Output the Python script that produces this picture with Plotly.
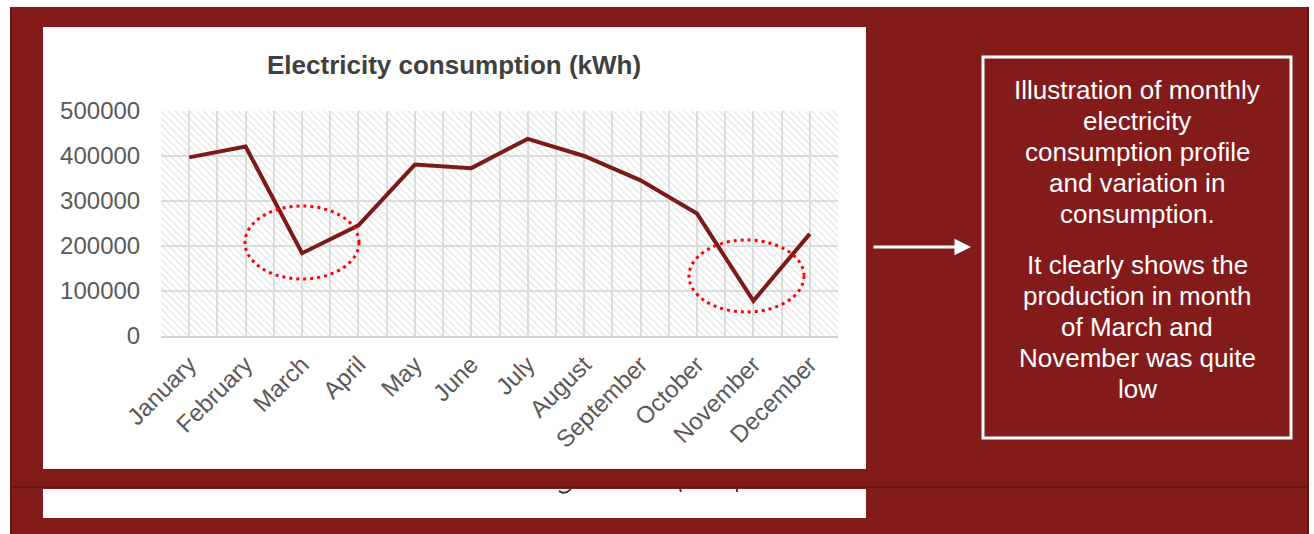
import plotly.graph_objects as go

W, H = 1314, 534

months = ["January", "February", "March", "April", "May", "June", "July",
          "August", "September", "October", "November", "December"]
consumption_kwh = [397000, 421000, 184000, 246000, 381000, 373000, 438000,
                   400000, 346000, 272000, 78000, 227000]
y_ticks = [0, 100000, 200000, 300000, 400000, 500000]

note_lines_top = ["Illustration of monthly", "electricity", "consumption profile",
                  "and variation in", "consumption."]
note_lines_bottom = ["It clearly shows the", "production in month", "of March and",
                     "November was quite", "low"]

RED = "#831b1b"
LINE_RED = "#7b1a1a"
GRID = "#dedede"
FONT = "Liberation Sans, Arial, sans-serif"


def px(x):
    return x / W


def py(y):
    return 1 - y / H


def pix_path(points):
    """SVG path in paper units from pixel points."""
    parts = []
    for i, (x, y) in enumerate(points):
        parts.append(("M" if i == 0 else "L") + f"{px(x):.5f},{py(y):.5f}")
    return " ".join(parts)


fig = go.Figure()

# hatched plot-area fill
x_lo, x_hi = -0.5, len(months) - 0.5
y_lo, y_hi = y_ticks[0], y_ticks[-1]
fig.add_trace(go.Scatter(
    x=[x_lo, x_hi, x_hi, x_lo, x_lo], y=[y_lo, y_lo, y_hi, y_hi, y_lo],
    mode="none", fill="toself", fillcolor="rgba(0,0,0,0)",
    fillpattern=dict(shape="\\", fgcolor="#d2d2d2", bgcolor="rgba(0,0,0,0)",
                     size=5, solidity=0.3, fillmode="overlay"),
    hoverinfo="skip", showlegend=False))

# consumption line
fig.add_trace(go.Scatter(
    x=list(range(len(months))), y=consumption_kwh, mode="lines",
    line=dict(color=LINE_RED, width=4), showlegend=False))

shapes = [
    # slide background and chart panels
    dict(type="rect", xref="paper", yref="paper", x0=px(10), x1=px(1308), y0=py(534), y1=py(7),
         fillcolor=RED, line=dict(width=0), layer="below"),
    dict(type="rect", xref="paper", yref="paper", x0=px(43), x1=px(866), y0=py(469), y1=py(27),
         fillcolor="white", line=dict(width=0), layer="below"),
    dict(type="rect", xref="paper", yref="paper", x0=px(43), x1=px(866), y0=py(518), y1=py(489),
         fillcolor="white", line=dict(width=0), layer="below"),
    # darker edges
    dict(type="line", xref="paper", yref="paper", x0=px(11), x1=px(11), y0=py(534), y1=py(7),
         line=dict(color="#6a1414", width=2), layer="below"),
    dict(type="line", xref="paper", yref="paper", x0=px(10), x1=px(1308), y0=py(487), y1=py(487),
         line=dict(color="#6a1414", width=2), layer="below"),
    dict(type="line", xref="paper", yref="paper", x0=px(1308), x1=px(1308), y0=py(534), y1=py(7),
         line=dict(color="#6a1414", width=2), layer="below"),
    # glyph tails peeking out of the lower panel
    dict(type="path", xref="paper", yref="paper",
         path=pix_path([(571, 489), (567, 492), (563, 493), (559, 491)]),
         line=dict(color="#404040", width=2)),
    dict(type="path", xref="paper", yref="paper",
         path=pix_path([(680, 489), (681, 492)]),
         line=dict(color="#404040", width=2)),
    dict(type="path", xref="paper", yref="paper",
         path=pix_path([(737, 489), (737, 492)]),
         line=dict(color="#404040", width=2)),
    # note box
    dict(type="rect", xref="paper", yref="paper", x0=px(983), x1=px(1291), y0=py(438), y1=py(57),
         fillcolor="rgba(0,0,0,0)", line=dict(color="white", width=3)),
    # highlight rings
    dict(type="circle", xref="paper", yref="paper", x0=px(245), x1=px(359), y0=py(279), y1=py(206),
         line=dict(color="#ff0000", width=3, dash="3px,4px")),
    dict(type="circle", xref="paper", yref="paper", x0=px(689), x1=px(804), y0=py(312), y1=py(240),
         line=dict(color="#ff0000", width=3, dash="3px,4px")),
]

annotations = [
    dict(text="<b>Electricity consumption (kWh)</b>", xref="paper", yref="paper",
         x=px(454), y=py(65), showarrow=False, xanchor="center", yanchor="middle",
         font=dict(family=FONT, size=26, color="#404040")),
    dict(text="", xref="paper", yref="paper", x=px(971), y=py(247),
         ax=-99, ay=0, showarrow=True, arrowhead=2, arrowsize=1.1,
         arrowwidth=3, arrowcolor="white"),
]
for i, line in enumerate(note_lines_top):
    annotations.append(dict(text=line, xref="paper", yref="paper", x=px(1137), y=py(90 + 31 * i),
                            showarrow=False, xanchor="center", yanchor="middle",
                            font=dict(family=FONT, size=26, color="white")))
for i, line in enumerate(note_lines_bottom):
    annotations.append(dict(text=line, xref="paper", yref="paper", x=px(1137), y=py(265 + 31 * i),
                            showarrow=False, xanchor="center", yanchor="middle",
                            font=dict(family=FONT, size=26, color="white")))

fig.update_layout(
    template="none",
    width=W, height=H, margin=dict(l=0, r=0, t=0, b=0, pad=0),
    paper_bgcolor="white", plot_bgcolor="rgba(0,0,0,0)",
    shapes=shapes, annotations=annotations, showlegend=False,
    font=dict(family=FONT, color="#595959"),
    xaxis=dict(domain=[px(161), px(838)], range=[x_lo, x_hi], automargin=False,
               tickmode="array", tickvals=list(range(len(months))), ticktext=months,
               tickangle=-45, tickfont=dict(size=24, color="#595959"),
               ticks="outside", ticklen=3, tickcolor="rgba(0,0,0,0)",
               showgrid=True, gridcolor=GRID, gridwidth=1.5,
               minor=dict(tickmode="linear", tick0=-0.5, dtick=1, showgrid=True,
                          gridcolor=GRID, gridwidth=1.5, ticks=""),
               showline=True, linecolor="#d4d4d4", linewidth=2,
               zeroline=False, fixedrange=True),
    yaxis=dict(domain=[py(336), py(111)], range=[y_lo, y_hi], automargin=False,
               tickmode="array", tickvals=y_ticks, tickformat="d",
               tickfont=dict(size=24, color="#595959"),
               ticks="outside", ticklen=15, tickcolor="rgba(0,0,0,0)",
               showgrid=True, gridcolor=GRID, gridwidth=1.5,
               zeroline=False, showline=False, fixedrange=True),
)

fig.write_html("out.html")
